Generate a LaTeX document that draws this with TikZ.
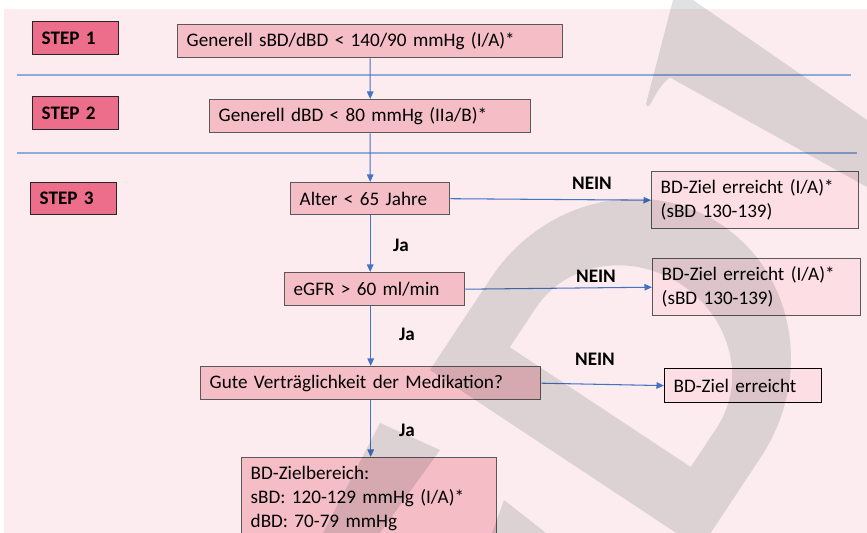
\documentclass[tikz,border=0pt]{standalone}
\usepackage{fontspec}
\setmainfont{Carlito}
\usetikzlibrary{arrows.meta}

\definecolor{pagepink}{RGB}{252,236,239}
\definecolor{steppink}{RGB}{236,110,138}
\definecolor{boxpink}{RGB}{245,190,198}
\definecolor{goalpink}{RGB}{252,222,228}
\definecolor{lineblue}{RGB}{143,170,219}
\definecolor{arrowblue}{RGB}{68,114,196}
\definecolor{markgray}{RGB}{223,226,226}

\newcommand{\flowfont}{\fontsize{10.9}{13.7}\selectfont}

\tikzset{
  stepbox/.style = {draw=black!85, fill=steppink, line width=0.8pt, anchor=north west,
    minimum height=0.66cm, inner xsep=0.18cm, text width=1.36cm, align=left, font=\flowfont\bfseries},
  box/.style = {draw=black!65, fill=boxpink, line width=0.8pt, anchor=north west,
    inner xsep=0.18cm, align=left, font=\flowfont},
  goal/.style = {box, fill=goalpink},
  answer/.style = {font=\flowfont\bfseries},
  flow/.style = {draw=arrowblue, line width=0.6pt, -{Triangle[length=1.5mm, width=1.3mm]}},
  sep/.style = {draw=lineblue, line width=1pt},
  watermark/.style = {fill=markgray}
}

\begin{document}
\begin{tikzpicture}

  %% Page
  \useasboundingbox (0,0) rectangle (17.34,-10.66);
  \clip (0,0) rectangle (17.34,-10.66);
  \fill[pagepink] (0.08,-0.18) rectangle (17.34,-10.66);

  % Steps
  \node[stepbox] (step1) at (0.64,-0.42) {STEP 1};
  \node[stepbox] (step2) at (0.64,-1.92) {STEP 2};
  \node[stepbox, minimum height=0.64cm] (step3) at (0.60,-3.64) {STEP 3};

  % Separators
  \draw[sep] (0.34,-1.50) -- (17.02,-1.50);
  \draw[sep] (0.34,-3.06) -- (17.14,-3.06);

  %% Flow
  \node[box, text width=7.34cm, minimum height=0.66cm] (general) at (3.54,-0.48) {Generell sBD/dBD < 140/90 mmHg (I/A)*};
  \node[box, text width=6.06cm, minimum height=0.66cm] (diast) at (4.18,-1.98) {Generell dBD < 80 mmHg (IIa/B)*};
  \node[box, text width=2.82cm, minimum height=0.64cm] (age) at (5.80,-3.64) {Alter < 65 Jahre};
  \node[box, text width=3.24cm, minimum height=0.66cm] (egfr) at (5.68,-5.44) {eGFR > 60 ml/min};
  \node[box, text width=6.44cm, minimum height=0.66cm] (tol) at (4.00,-7.32) {Gute Verträglichkeit der Medikation?};
  \node[box, text width=4.74cm, minimum height=1.64cm] (range) at (4.82,-9.14) {BD-Zielbereich:\\sBD: 120-129 mmHg (I/A)*\\dBD: 70-79 mmHg};

  % Goals
  \node[goal, text width=3.78cm, minimum height=1.14cm] (goal1) at (13.02,-3.42) {BD-Ziel erreicht (I/A)*\\(sBD 130-139)};
  \node[goal, text width=3.80cm, minimum height=1.14cm] (goal2) at (13.04,-5.16) {BD-Ziel erreicht (I/A)*\\(sBD 130-139)};
  \node[goal, draw=black, line width=0.7pt, text width=2.78cm, minimum height=0.68cm] (goal3) at (13.28,-7.36) {BD-Ziel erreicht};

  % Arrows | down
  \draw[flow] (general) -- (diast);
  \draw[flow] (diast) -- (age);
  \draw[flow] (age.south) -- (age.south |- egfr.north);
  \draw[flow] (tol.north |- egfr.south) -- (tol.north);
  \draw[flow] (tol.south) -- (range.north -| tol.south);

  % Arrows | right
  \draw[flow] (age.east) -- (goal1.west);
  \draw[flow] (egfr.east) -- (goal2.west);
  \draw[flow] (tol.east) -- (goal3.west);

  % Answers
  \node[answer] (ja1) at (8.02,-4.90) {Ja};
  \node[answer] (ja2) at (8.14,-6.68) {Ja};
  \node[answer] (ja3) at (8.14,-8.60) {Ja};
  \node[answer] (nein1) at (11.84,-3.66) {NEIN};
  \node[answer] (nein2) at (11.92,-5.52) {NEIN};
  \node[answer] (nein3) at (11.90,-7.18) {NEIN};

  %% Watermark
  \begin{scope}[blend mode=multiply]
    \begin{scope}[shift={(8.6,-7.4)}, rotate=56.5]
      \fill[watermark, even odd rule] (0,0) -- (2.2,0) arc[start angle=90, end angle=-90, x radius=3.44, y radius=3.24] -- (0,-6.48) -- cycle
        (1.26,-1.08) -- (2.2,-1.08) arc[start angle=90, end angle=-90, x radius=2.0, y radius=2.17] -- (1.26,-5.42) -- cycle;
    \end{scope}
    \fill[watermark] (7.60,-8.46) -- (8.80,-9.00) -- (7.60,-10.66) -- (6.46,-10.66) -- cycle;
    \fill[watermark] (10.08,-10.00) -- (10.92,-10.66) -- (9.84,-10.66) -- cycle;
    \fill[watermark] (13.46,0) -- (12.92,-2.08) .. controls (12.98,-2.30) and (13.10,-1.75) .. (13.40,-1.55)
      -- (17.34,-3.74) -- (17.34,-2.40) -- (13.86,0) -- cycle;
  \end{scope}

\end{tikzpicture}
\end{document}
